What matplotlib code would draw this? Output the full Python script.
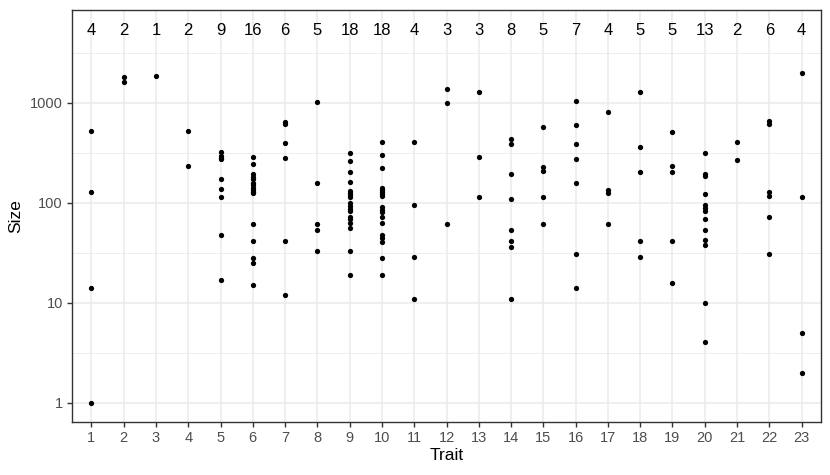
import numpy as np
import matplotlib.pyplot as plt

plt.rcParams['font.family'] = ['Liberation Sans', 'DejaVu Sans']

# sizes per trait
trait_sizes = {
    1: [518, 128, 13.9, 1],
    2: [1820, 1600],
    3: [1850],
    4: [518, 231],
    5: [324, 290, 280, 272, 173, 137, 114, 47, 17],
    6: [287, 244, 194, 182, 173, 158, 150, 139, 134, 129, 125, 61, 41.7, 28, 25, 14.9],
    7: [637, 608, 398, 282, 41.7, 11.9],
    8: [1023, 157, 61.6, 53, 32.9],
    9: [312, 261, 204, 161, 131, 124, 119, 113, 100, 93, 87, 82, 72.4, 68.2, 62.7, 55.4, 32.9, 18.9],
    10: [402, 300, 222, 141, 135, 129, 123, 117, 90, 85, 80, 72.4, 62, 47.5, 44, 40.7, 27.8, 18.9],
    11: [402, 94, 28.8, 11],
    12: [1360, 1000, 61.2],
    13: [1290, 284, 114],
    14: [434, 384, 192, 108, 53, 41.7, 35.8, 11],
    15: [571, 226, 206, 114, 61.2],
    16: [1047, 603, 384, 274, 157, 30.9, 13.9],
    17: [801, 134, 124, 61.2],
    18: [1270, 360, 204, 41.7, 28.8],
    19: [513, 231, 204, 41.7, 15.8],
    20: [312, 192, 184, 122, 95.5, 89, 82.6, 68.2, 53, 42.4, 38, 9.9, 4],
    21: [402, 269],
    22: [656, 608, 129, 116, 72, 30.9],
    23: [1982, 114, 4.94, 2.0],
}
traits = list(trait_sizes.keys())
counts = [4, 2, 1, 2, 9, 16, 6, 5, 18, 18, 4, 3, 3, 8, 5, 7, 4, 5, 5, 13, 2, 6, 4]

dark = '#333333'
grid_col = '#EBEBEB'

fig = plt.figure(figsize=(8.3, 4.75), dpi=100)
ax = fig.add_axes([72 / 830, 53 / 475, 749 / 830, 412 / 475])

for t in traits:
    ys = trait_sizes[t]
    ax.plot([t] * len(ys), ys, 'o', color='black', markersize=3.8,
            markeredgewidth=0, zorder=3)

# count of observations above each trait
for t, n in zip(traits, counts):
    ax.text(t, 10 ** 3.72, str(n), ha='center', va='center', fontsize=12,
            color='black')

ax.set_yscale('log')
ax.set_xlim(0.4, 23.6)
ax.set_ylim(10 ** -0.193, 10 ** 3.927)
ax.set_xticks(traits)
ax.set_xticklabels([str(t) for t in traits])
ax.set_yticks([1, 10, 100, 1000])
ax.set_yticklabels(['1', '10', '100', '1000'])
ax.set_yticks([10 ** 0.5, 10 ** 1.5, 10 ** 2.5, 10 ** 3.5], minor=True)
ax.tick_params(axis='y', which='minor', length=0, labelleft=False)

ax.grid(True, which='major', color=grid_col, linewidth=1.1, zorder=0)
ax.grid(True, which='minor', axis='y', color=grid_col, linewidth=0.6, zorder=0)
ax.set_axisbelow(True)

ax.tick_params(axis='both', which='major', length=3.5, width=1.0, color=dark,
               labelcolor='#4D4D4D', labelsize=10.5, pad=3)
for s in ax.spines.values():
    s.set_color(dark)
    s.set_linewidth(1.0)

ax.set_xlabel('Trait', fontsize=12.5, labelpad=2)
ax.set_ylabel('Size', fontsize=12.5, labelpad=5)

fig.savefig('out.png', dpi=100)
